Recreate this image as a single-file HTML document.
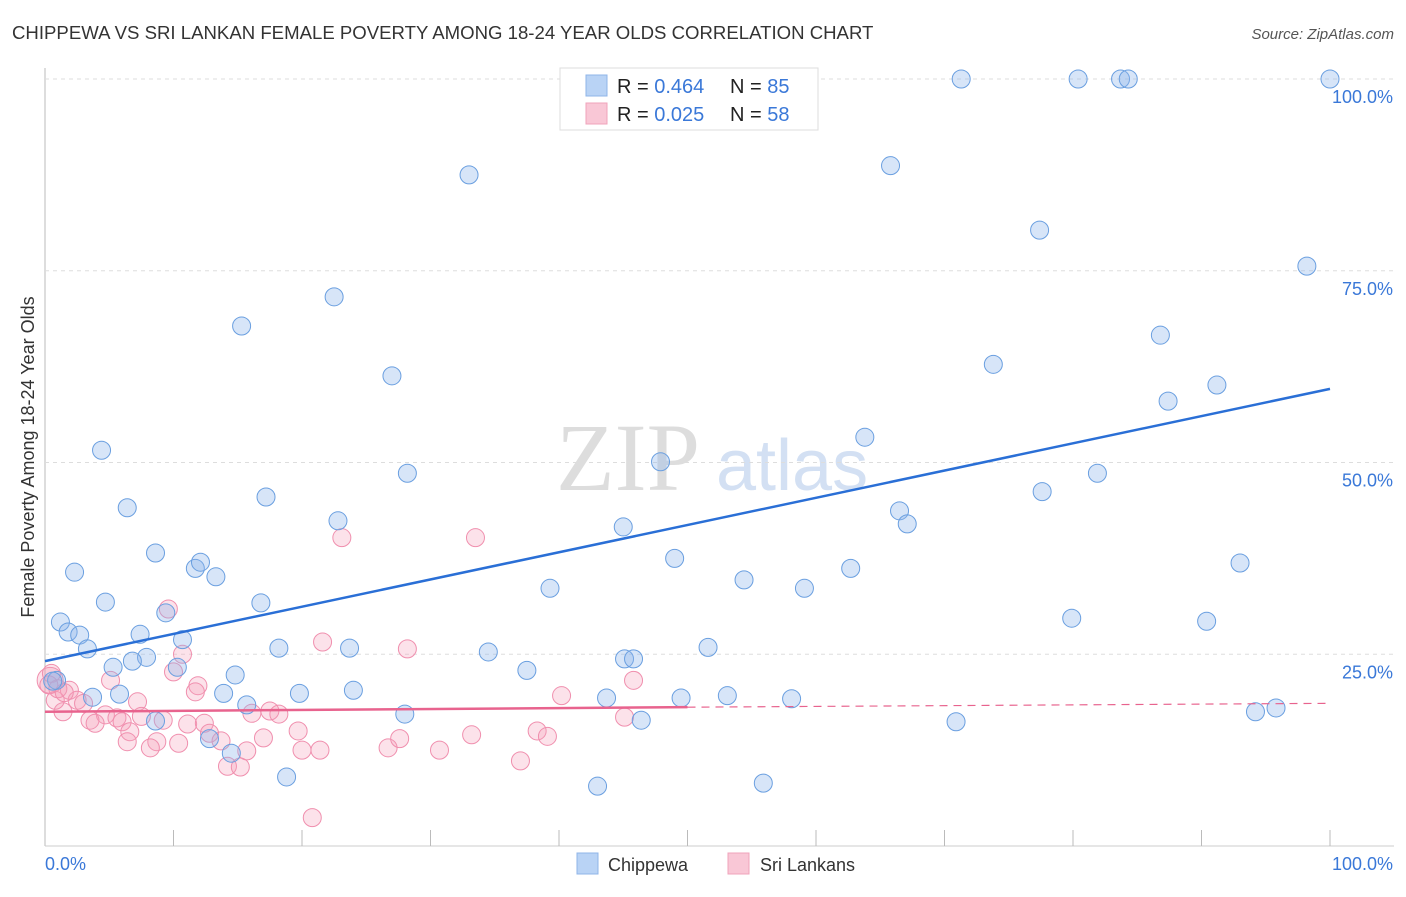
<!DOCTYPE html>
<html><head><meta charset="utf-8"><style>
body{margin:0;background:#fff;font-family:"Liberation Sans",sans-serif;}
</style></head><body>
<svg id="chart" width="1406" height="892" xmlns="http://www.w3.org/2000/svg" style="font-family:'Liberation Sans',sans-serif">
<text x="12" y="39" font-size="18.6" fill="#333">CHIPPEWA VS SRI LANKAN FEMALE POVERTY AMONG 18-24 YEAR OLDS CORRELATION CHART</text>
<text x="1394" y="39" font-size="15" fill="#555" text-anchor="end" font-style="italic">Source: ZipAtlas.com</text>
<text x="556" y="490" font-size="96" fill="#ddd" font-family="Liberation Serif,serif">ZIP</text>
<text x="716" y="490" font-size="72" fill="#d3e0f3">atlas</text>
<text transform="translate(34,457) rotate(-90)" font-size="18" fill="#333" text-anchor="middle">Female Poverty Among 18-24 Year Olds</text>
<g id="grid"></g>
<g id="marks"></g>
<g>
<rect x="560" y="68" width="258" height="62" fill="#fff" stroke="#ddd"/>
<rect x="586" y="75" width="21" height="21" fill="#b9d3f5" stroke="#8fb4e8"/>
<rect x="586" y="103" width="21" height="21" fill="#f9c7d6" stroke="#f0a3bb"/>
<text x="617" y="93" font-size="20" fill="#222">R = <tspan fill="#3a78d8">0.464</tspan><tspan x="730">N = </tspan><tspan fill="#3a78d8">85</tspan></text>
<text x="617" y="121" font-size="20" fill="#222">R = <tspan fill="#3a78d8">0.025</tspan><tspan x="730">N = </tspan><tspan fill="#3a78d8">58</tspan></text>
</g>
<g>
<rect x="577" y="853" width="21" height="21" fill="#b9d3f5" stroke="#8fb4e8"/>
<text x="608" y="871" font-size="18" fill="#333">Chippewa</text>
<rect x="728" y="853" width="21" height="21" fill="#f9c7d6" stroke="#f0a3bb"/>
<text x="760" y="871" font-size="18" fill="#333">Sri Lankans</text>
</g>
</svg>
<script>
const yTicks=[25,50,75,100];
const yTickLabels=["25.0%","50.0%","75.0%","100.0%"];
const xTicks=[10,20,30,40,50,60,70,80,90,100];
const blueX=[71.3,80.4,83.7,84.3,100,33.0,65.8,77.4,98.2,22.5,15.3,86.8,73.8,27.0,91.2,87.4,63.8,4.4,47.9,28.2,81.9,17.2,77.6,6.4,66.5,67.1,22.8,45.0,8.6,49.0,11.7,12.1,93.0,62.7,2.3,13.3,54.4,39.3,59.1,4.7,16.8,9.4,79.9,90.4,1.2,1.8,2.7,7.4,10.7,3.3,18.2,23.7,34.5,51.6,7.9,6.8,45.1,45.8,5.3,10.3,37.5,14.8,0.9,0.6,24.0,13.9,19.8,5.8,3.7,53.1,43.7,49.5,58.1,15.7,94.2,95.8,28.0,46.4,70.9,8.6,12.8,14.5,18.8,43.0,55.9];
const blueY=[100,100,100,100,100,87.5,88.7,80.3,75.6,71.6,67.8,66.6,62.8,61.3,60.1,58.0,53.3,51.6,50.1,48.6,48.6,45.5,46.2,44.1,43.7,42.0,42.4,41.6,38.2,37.5,36.2,37.0,36.9,36.2,35.7,35.1,34.7,33.6,33.6,31.8,31.7,30.4,29.7,29.3,29.2,27.9,27.5,27.6,26.9,25.7,25.8,25.8,25.3,25.9,24.6,24.1,24.4,24.4,23.3,23.3,22.9,22.3,21.6,21.5,20.3,19.9,19.9,19.8,19.4,19.6,19.3,19.3,19.2,18.4,17.5,18.0,17.2,16.4,16.2,16.3,14.0,12.1,9.0,7.8,8.2];
const pinkX=[23.1,33.5,9.6,21.6,28.2,10.7,5.1,11.9,11.7,1.9,7.2,2.5,3.0,1.4,4.7,5.6,3.5,3.9,6.0,7.5,9.2,6.6,6.4,8.7,8.2,11.1,12.4,12.8,13.7,10.4,16.1,17.5,18.2,10.0,19.7,20.0,21.4,17.0,15.7,14.2,15.2,20.8,26.7,27.6,30.7,33.2,37.0,38.3,40.2,45.8,45.1,39.1,0.4,0.8,0.5,1.0,0.3,1.5];
const pinkY=[40.2,40.2,30.9,26.6,25.7,25.0,21.6,20.9,20.1,20.3,18.8,19.0,18.6,17.5,17.1,16.7,16.4,16.0,16.2,16.9,16.4,14.9,13.6,13.6,12.8,15.9,16.0,14.7,13.7,13.4,17.3,17.6,17.2,22.7,15.0,12.5,12.5,14.1,12.4,10.4,10.3,3.7,12.8,14.0,12.5,14.5,11.1,15.0,19.6,21.6,16.8,14.3,21.6,19.0,22.5,20.5,21.0,20.0];
const blueTrend=[24.1,59.6];
const pinkTrend=[17.5,18.1,18.6];
const pinkSolidEnd=50;
const X=v=>45+v*12.85, Y=v=>846-v*7.67;
const NS="http://www.w3.org/2000/svg";
const grid=document.getElementById('grid'), marks=document.getElementById('marks');
function mk(tag,attrs,parent){const e=document.createElementNS(NS,tag);for(const k in attrs)e.setAttribute(k,attrs[k]);parent.appendChild(e);return e;}
let ax=mk('line',{x1:45,y1:68,x2:45,y2:846,stroke:'#bbb'},grid);


let bx=mk('line',{x1:45,y1:846,x2:1394,y2:846,stroke:'#ccc'},grid);


yTicks.forEach((t,i)=>{
 let g=mk('line',{x1:45,y1:Y(t),x2:1394,y2:Y(t),stroke:'#ddd','stroke-dasharray':'4,4'},grid);
 
 
 let tx=mk('text',{x:1393,y:Y(t)+24,'font-size':18,fill:'#3a78d8','text-anchor':'end'},grid);
 tx.textContent=yTickLabels[i];
 
 
});
xTicks.forEach(t=>{
 let l=mk('line',{x1:X(t),y1:830,x2:X(t),y2:846,stroke:'#bbb'},grid);
 
 
});
let x0=mk('text',{x:45,y:870,'font-size':18,fill:'#3a78d8'},grid);x0.textContent='0.0%';


let x1=mk('text',{x:1393,y:870,'font-size':18,fill:'#3a78d8','text-anchor':'end'},grid);x1.textContent='100.0%';


pinkX.forEach((v,i)=>{
 let c=mk('circle',{cx:X(v),cy:Y(pinkY[i]),r:(i===52)?13:9,fill:'rgba(246,160,185,0.3)',stroke:'#f08fae','stroke-width':1},marks);
 
 
});
blueX.forEach((v,i)=>{
 let c=mk('circle',{cx:X(v),cy:Y(blueY[i]),r:9,fill:'rgba(140,180,235,0.35)',stroke:'#6a9fe0','stroke-width':1},marks);
 
 
});
let bl=mk('line',{x1:X(0),y1:Y(blueTrend[0]),x2:X(100),y2:Y(blueTrend[1]),stroke:'#2a6fd6','stroke-width':2.5},marks);


let pl=mk('line',{x1:X(0),y1:Y(pinkTrend[0]),x2:X(pinkSolidEnd),y2:Y(pinkTrend[1]),stroke:'#e8638e','stroke-width':2.5},marks);


let pd=mk('line',{x1:X(pinkSolidEnd),y1:Y(pinkTrend[1]),x2:X(100),y2:Y(pinkTrend[2]),stroke:'#e8638e','stroke-width':1.2,'stroke-dasharray':'8,6'},marks);


</script>
</body></html>
